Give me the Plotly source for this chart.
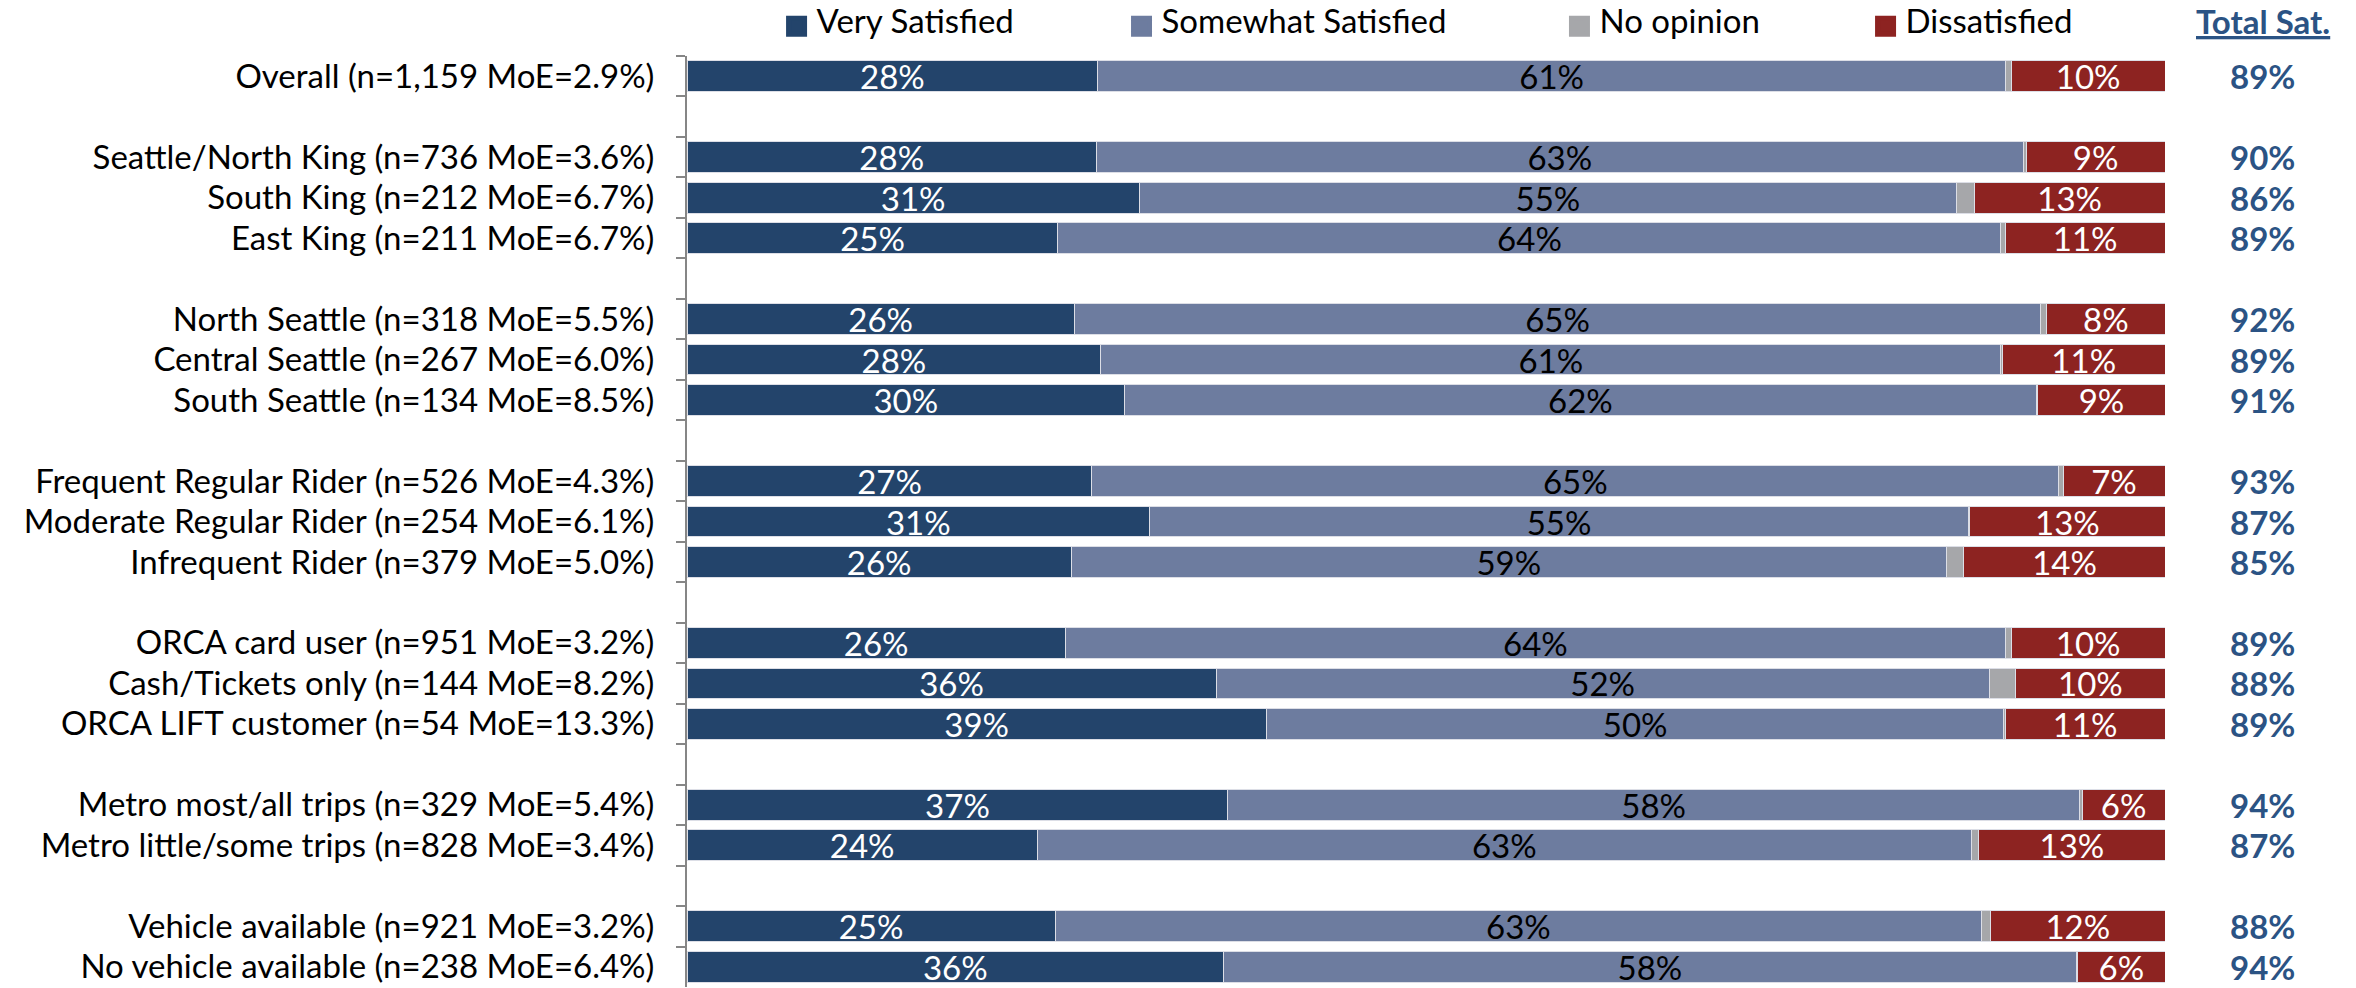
import plotly.graph_objects as go

# ---------------- data ----------------
group_labels = [
    ["Overall (n=1,159 MoE=2.9%)"],
    ["Seattle/North King (n=736 MoE=3.6%)", "South King (n=212 MoE=6.7%)", "East King (n=211 MoE=6.7%)"],
    ["North Seattle (n=318 MoE=5.5%)", "Central Seattle (n=267 MoE=6.0%)", "South Seattle (n=134 MoE=8.5%)"],
    ["Frequent Regular Rider (n=526 MoE=4.3%)", "Moderate Regular Rider (n=254 MoE=6.1%)",
     "Infrequent Rider (n=379 MoE=5.0%)"],
    ["ORCA card user (n=951 MoE=3.2%)", "Cash/Tickets only (n=144 MoE=8.2%)", "ORCA LIFT customer (n=54 MoE=13.3%)"],
    ["Metro most/all trips (n=329 MoE=5.4%)", "Metro little/some trips (n=828 MoE=3.4%)"],
    ["Vehicle available (n=921 MoE=3.2%)", "No vehicle available (n=238 MoE=6.4%)"],
]

very_satisfied = [27.8, 27.7, 30.6, 25.1, 26.2, 28.0, 29.6, 27.4, 31.3, 26.0, 25.6, 35.8, 39.2, 36.6, 23.7, 24.9, 36.3]
somewhat_satisfied = [61.4, 62.7, 55.3, 63.8, 65.4, 60.9, 61.7, 65.4, 55.4, 59.2, 63.6, 52.3, 49.9, 57.6, 63.2, 62.7, 57.7]
no_opinion = [0.4, 0.2, 1.2, 0.3, 0.4, 0.1, 0.1, 0.3, 0.1, 1.2, 0.4, 1.8, 0.1, 0.2, 0.5, 0.6, 0.1]
dissatisfied = [10.4, 9.4, 12.9, 10.8, 8.0, 11.0, 8.6, 6.9, 13.2, 13.6, 10.4, 10.1, 10.8, 5.6, 12.6, 11.8, 5.9]

series_names = ["Very Satisfied", "Somewhat Satisfied", "No opinion", "Dissatisfied"]
series_colors = ["#23446B", "#6D7C9F", "#A6A7AA", "#8D2321"]
label_colors = ["white", "black", "black", "white"]
total_header = "Total Sat."

# ---------------- build category axis (with blank spacer rows) ----------------
labels = [lab for g in group_labels for lab in g]
ycats = []
for gi, g in enumerate(group_labels):
    if gi > 0:
        ycats.append(" " * gi)
    ycats.extend(g)

FONT = "Lato, 'Open Sans', sans-serif"
FS = 33
TOTAL_COLOR = "#2B5384"

fig = go.Figure()
values = [very_satisfied, somewhat_satisfied, no_opinion, dissatisfied]
for name, vals, col, lc in zip(series_names, values, series_colors, label_colors):
    show_text = name != "No opinion"
    fig.add_trace(go.Bar(
        orientation="h",
        x=vals,
        y=labels,
        name=name,
        marker=dict(color=col, line=dict(color="#DCDEE6", width=1)),
        text=[f"{v:.0f}%" for v in vals] if show_text else None,
        textposition="inside" if show_text else "none",
        insidetextanchor="middle",
        constraintext="none",
        textfont=dict(family=FONT, size=FS, color=lc),
        showlegend=False,
        hoverinfo="skip",
    ))

# legend entries (one legend per item so they can be spaced like the original)
legend_ids = ["legend", "legend2", "legend3", "legend4"]
legend_x = [0.0606, 0.2940, 0.5903, 0.7974]
for name, col, lid in zip(series_names, series_colors, legend_ids):
    fig.add_trace(go.Scatter(
        x=[None], y=[None], mode="markers",
        name=f'<span style="font-size:{FS}px">{name}</span>',
        marker=dict(symbol="square", size=16, color=col, line=dict(color=col, width=5)),
        legend=lid, showlegend=True, hoverinfo="skip",
    ))

legend_common = dict(
    orientation="h", xanchor="left", yanchor="top", y=1.0516,
    font=dict(family=FONT, size=18, color="black"),
    bgcolor="rgba(0,0,0,0)", borderwidth=0,
)

annotations = []
for lab, vs, ss in zip(labels, very_satisfied, somewhat_satisfied):
    annotations.append(dict(
        x=1.0663, xref="paper", y=lab, yref="y", xanchor="center", yanchor="middle",
        text=f"<b>{round(vs + ss)}%</b>", showarrow=False,
        font=dict(family=FONT, size=FS, color=TOTAL_COLOR),
    ))
annotations.append(dict(
    x=1.0663, xref="paper", y=1.0371, yref="paper", xanchor="center", yanchor="middle",
    text=f"<b><u>{total_header}</u></b>", showarrow=False,
    font=dict(family=FONT, size=FS, color=TOTAL_COLOR),
))

layout_legends = {}
for lid, lx in zip(legend_ids, legend_x):
    layout_legends[lid] = dict(legend_common, x=lx)

# the page body has an 8px margin, so the figure is 8px smaller than the window
fig.update_layout(
    template="none",
    width=2348, height=980,
    margin=dict(l=679, r=191, t=48, b=1, pad=0, autoexpand=False),
    barmode="stack",
    bargap=0.24,
    plot_bgcolor="white", paper_bgcolor="white",
    font=dict(family=FONT, size=FS, color="black"),
    xaxis=dict(range=[0, 100], showticklabels=False, showgrid=False, zeroline=False,
               showline=False, ticks="", automargin=False, fixedrange=True),
    yaxis=dict(type="category", categoryorder="array", categoryarray=ycats,
               range=[len(ycats) - 0.5, -0.5], tickson="boundaries",
               tickmode="linear", tick0=0, dtick=1,
               ticks="outside", ticklen=9, tickwidth=2, tickcolor="#868686",
               showline=True, linecolor="#868686", linewidth=2,
               showgrid=False, zeroline=False, automargin=False,
               ticklabelstandoff=24,
               tickfont=dict(family=FONT, size=FS, color="black")),
    annotations=annotations,
    showlegend=True,
    **layout_legends,
)

fig.write_html("out.html")
